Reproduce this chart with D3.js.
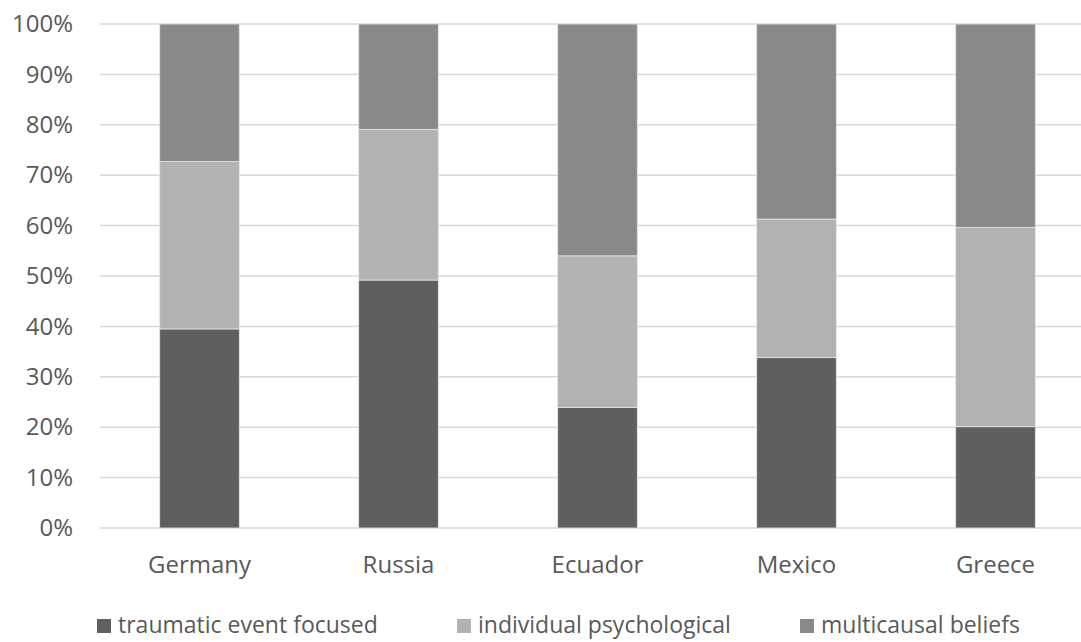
<!DOCTYPE html>
<html>
<head>
<meta charset="utf-8">
<script src="https://cdn.jsdelivr.net/npm/d3@7"></script>
<style>
  body { margin: 0; background: #fff; }
  text { font-family: "Open Sans", "DejaVu Sans", sans-serif; fill: #595959; }
</style>
</head>
<body>
<div id="chart"></div>
<script>
// categories and series (percent of each country)
const countries = ["Germany", "Russia", "Ecuador", "Mexico", "Greece"];
const traumatic = [39.5, 49.2, 23.9, 33.8, 20.1];
const individual = [33.2, 29.9, 30.1, 27.5, 39.5];
const multicausal = [27.3, 20.9, 46.0, 38.7, 40.4];
const seriesNames = ["traumatic event focused", "individual psychological", "multicausal beliefs"];
const yTicks = [0, 10, 20, 30, 40, 50, 60, 70, 80, 90, 100];

const svgWidth = 1081;
const svgHeight = 642;
const margin = { top: 24, right: -14, bottom: 114, left: 100 };
const width = svgWidth - margin.left - margin.right;
const height = svgHeight - margin.top - margin.bottom;

const colors = ["#5f5f5f", "#b2b2b2", "#898989"];
const keys = ["traumatic", "individual", "multicausal"];

const rows = countries.map((c, i) => ({
    country: c,
    traumatic: traumatic[i],
    individual: individual[i],
    multicausal: multicausal[i]
}));

const svg = d3.select("#chart").append("svg")
    .attr("width", svgWidth)
    .attr("height", svgHeight);

const chartGroup = svg.append("g")
    .attr("transform", `translate(${margin.left}, ${margin.top})`);

const xScale = d3.scaleBand()
    .domain(countries)
    .range([0, width])
    .paddingInner(0.6)
    .paddingOuter(0.3);

const yScale = d3.scaleLinear()
    .domain([0, 100])
    .range([height, 0]);

// gridlines
chartGroup.append("g")
    .selectAll("line")
    .data(yTicks)
    .enter().append("line")
    .attr("x1", 0)
    .attr("x2", width)
    .attr("y1", d => yScale(d))
    .attr("y2", d => yScale(d))
    .attr("stroke", "#d9d9d9")
    .attr("stroke-width", 1.5);

// y axis labels
const yAxis = d3.axisLeft(yScale)
    .tickValues(yTicks)
    .tickFormat(d => d + "%")
    .tickSize(0)
    .tickPadding(27);

const yG = chartGroup.append("g").call(yAxis);
yG.select(".domain").remove();
yG.selectAll("text")
    .style("font-size", "24px")
    .attr("fill", "#595959");

// stacked bars
const stacked = d3.stack().keys(keys)(rows);

chartGroup.selectAll(".series")
    .data(stacked)
    .enter().append("g")
    .attr("class", "series")
    .attr("fill", (d, i) => colors[i])
    .selectAll("rect")
    .data(d => d)
    .enter().append("rect")
    .attr("x", d => xScale(d.data.country))
    .attr("width", xScale.bandwidth())
    .attr("y", d => yScale(d[1]))
    .attr("height", d => yScale(d[0]) - yScale(d[1]))
    .attr("stroke", "#e6e6e6")
    .attr("stroke-width", 0.8);

// x axis labels
const xAxis = d3.axisBottom(xScale).tickSize(0).tickPadding(28);
const xG = chartGroup.append("g")
    .attr("transform", `translate(0, ${height})`)
    .call(xAxis);
xG.select(".domain").remove();
xG.selectAll("text")
    .style("font-size", "24px")
    .attr("fill", "#595959");

// legend
const legendX = [97, 457, 800];
const legend = svg.append("g")
    .selectAll("g")
    .data(seriesNames)
    .enter().append("g")
    .attr("transform", (d, i) => `translate(${legendX[i]}, 625)`);

legend.append("rect")
    .attr("x", 0)
    .attr("y", -6)
    .attr("width", 14)
    .attr("height", 14)
    .attr("fill", (d, i) => colors[i]);

legend.append("text")
    .attr("x", 21)
    .attr("dy", "0.35em")
    .style("font-size", "23px")
    .text(d => d);
</script>
</body>
</html>
